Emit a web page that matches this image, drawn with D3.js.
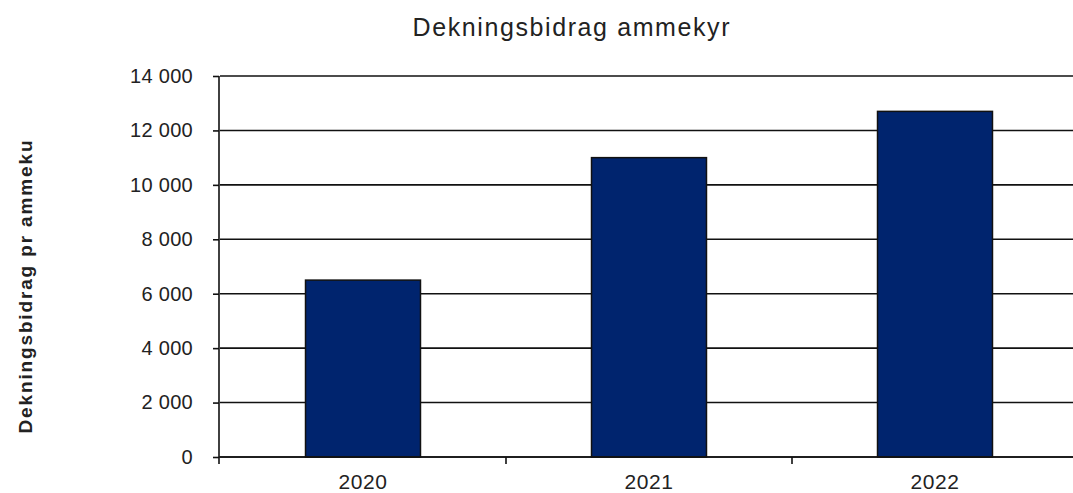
<!DOCTYPE html>
<meta charset="utf-8">
<style>
body { margin: 0; background: #fff; }
text { font-family: "Liberation Sans", Arial, sans-serif; fill: #222; }
.grid line { stroke: #111; stroke-width: 1.6px; }
.bar { fill: #00246e; stroke: #111; stroke-width: 1.5px; }
</style>
<svg width="1073" height="493"></svg>
<script src="https://cdn.jsdelivr.net/npm/d3@7"></script>
<script>

var years = ["2020", "2021", "2022"];
var values = [6500, 11000, 12700];
var yTicks = [0, 2000, 4000, 6000, 8000, 10000, 12000, 14000];

var svg = d3.select("svg"),
    plotLeft = 220, plotRight = 1078, plotTop = 76, plotBottom = 457;

var x = d3.scaleBand()
    .domain(years)
    .range([plotLeft, plotRight])
    .paddingInner(0.598)
    .paddingOuter(0.299);

var y = d3.scaleLinear()
    .domain([0, 14000])
    .range([plotBottom, plotTop]);

var fmt = function(d) { return d3.format(",")(d).replace(/,/g, " "); };

// gridlines
svg.append("g")
    .attr("class", "grid")
  .selectAll("line")
  .data(yTicks)
  .enter().append("line")
    .attr("x1", plotLeft)
    .attr("x2", 1073)
    .attr("y1", function(d) { return y(d); })
    .attr("y2", function(d) { return y(d); });

// bars
svg.selectAll(".bar")
  .data(years)
  .enter().append("rect")
    .attr("class", "bar")
    .attr("x", function(d) { return x(d); })
    .attr("width", x.bandwidth())
    .attr("y", function(d, i) { return y(values[i]); })
    .attr("height", function(d, i) { return plotBottom - y(values[i]); });

// y axis
var yAxis = svg.append("g")
    .attr("transform", "translate(" + (plotLeft - 1) + ",0)")
    .call(d3.axisLeft(y).tickValues(yTicks).tickFormat(fmt).tickSize(6).tickPadding(20));
yAxis.select(".domain").attr("stroke", "#111").attr("stroke-width", 1.6)
    .attr("d", "M0," + plotTop + "V" + (plotBottom + 7));
yAxis.selectAll(".tick line").attr("stroke", "#111").attr("stroke-width", 1.6);
yAxis.selectAll(".tick text")
    .style("font-size", "20px")
    .style("letter-spacing", "0.3px")
    .attr("fill", "#333");

// x axis (category boundaries as ticks)
var step = x.step();
var xAxis = svg.append("g");
xAxis.append("line")
    .attr("x1", plotLeft - 1).attr("x2", 1073)
    .attr("y1", plotBottom).attr("y2", plotBottom)
    .attr("stroke", "#111").attr("stroke-width", 1.6);
xAxis.selectAll(".xt")
  .data(years.slice(1))
  .enter().append("line")
    .attr("class", "xt")
    .attr("x1", function(d) { return x(d) - x.paddingInner() * step / 2; })
    .attr("x2", function(d) { return x(d) - x.paddingInner() * step / 2; })
    .attr("y1", plotBottom).attr("y2", plotBottom + 7)
    .attr("stroke", "#111").attr("stroke-width", 1.6);
xAxis.selectAll(".xl")
  .data(years)
  .enter().append("text")
    .attr("class", "xl")
    .attr("x", function(d) { return x(d) + x.bandwidth() / 2; })
    .attr("y", 489)
    .attr("text-anchor", "middle")
    .style("font-size", "21px")
    .style("letter-spacing", "0.6px")
    .text(function(d) { return d; });

// title
svg.append("text")
    .attr("x", 571)
    .attr("y", 36)
    .attr("text-anchor", "middle")
    .attr("textLength", 317)
    .attr("lengthAdjust", "spacing")
    .style("font-size", "25px")
    .text("Dekningsbidrag ammekyr");

// y label
svg.append("text")
    .attr("transform", "translate(32,287) rotate(-90)")
    .attr("text-anchor", "middle")
    .attr("textLength", 293)
    .attr("lengthAdjust", "spacing")
    .style("font-size", "19px")
    .style("font-weight", "bold")
    .text("Dekningsbidrag pr ammeku");

</script>
